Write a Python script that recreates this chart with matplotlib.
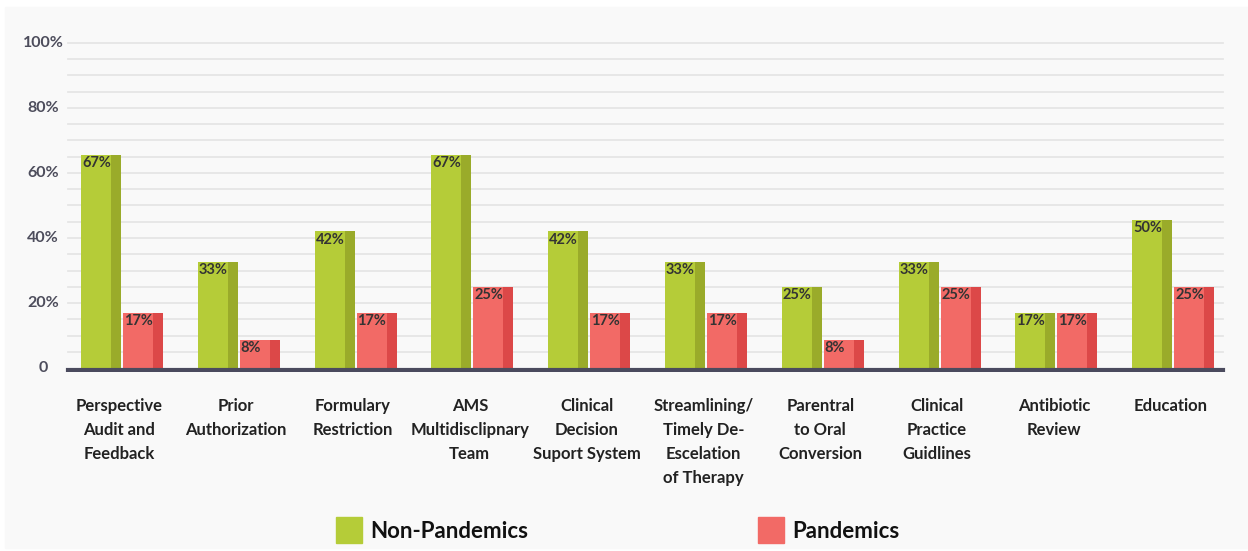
import matplotlib.pyplot as plt
from matplotlib.patches import Rectangle
import numpy as np

categories = [
    "Perspective\nAudit and\nFeedback",
    "Prior\nAuthorization",
    "Formulary\nRestriction",
    "AMS\nMultidisclipnary\nTeam",
    "Clinical\nDecision\nSuport System",
    "Streamlining/\nTimely De-\nEscelation\nof Therapy",
    "Parentral\nto Oral\nConversion",
    "Clinical\nPractice\nGuidlines",
    "Antibiotic\nReview",
    "Education",
]
# bar heights as drawn in the picture, and the labels printed on them
non_pandemic = [65.5, 32.5, 42, 65.5, 42, 32.5, 25, 32.5, 17, 45.5]
non_pandemic_labels = ["67%", "33%", "42%", "67%", "42%", "33%", "25%", "33%", "17%", "50%"]
pandemic = [17, 8.5, 17, 25, 17, 17, 8.5, 25, 17, 25]
pandemic_labels = ["17%", "8%", "17%", "25%", "17%", "17%", "8%", "25%", "17%", "25%"]
y_ticks = [0, 20, 40, 60, 80, 100]
y_tick_labels = ["0", "20%", "40%", "60%", "80%", "100%"]

GREEN, GREEN_SIDE = "#b5cc38", "#9aab2a"
RED, RED_SIDE = "#f26a66", "#dc4848"

W, H = 1248, 551
fig = plt.figure(figsize=(W / 100, H / 100), dpi=100, facecolor="white")
plt.rcParams["font.family"] = ["Lato", "DejaVu Sans"]

# light panel behind the chart
fig.patches.append(Rectangle((5 / W, 3 / H), 1 - 5 / W, 541 / H,
                             transform=fig.transFigure, color="#f9f9f9", zorder=-5))

ax = fig.add_axes([63 / W, (H - 372) / H, 1168 / W, 332 / H])
ax.set_facecolor("none")
ax.set_xlim(-0.5, len(categories) - 0.5)
ax.set_ylim(-4 / 3.25, 100 + 3 / 3.25)
ax.axis("off")

px = 1 / 116.8  # one pixel in x data units
front_w, side_w = 30 * px, 10 * px
x = np.arange(len(categories))

# grid lines every 5%
for g in range(5, 101, 5):
    ax.axhline(g, xmin=0.004, xmax=0.993, color="#e6e6e6", lw=1.3, zorder=1)

g_left = x - 40.5 * px
r_left = x + 1.5 * px
ax.bar(g_left, non_pandemic, width=front_w, align="edge", color=GREEN, zorder=3)
ax.bar(g_left + front_w, non_pandemic, width=side_w, align="edge", color=GREEN_SIDE, zorder=3)
ax.bar(r_left, pandemic, width=front_w, align="edge", color=RED, zorder=3)
ax.bar(r_left + front_w, pandemic, width=side_w, align="edge", color=RED_SIDE, zorder=3)

for i in range(len(categories)):
    ax.text(g_left[i] + 1 * px, non_pandemic[i] - 2.5, non_pandemic_labels[i],
            ha="left", va="center", fontsize=10.5, fontweight="bold", color="#333333", zorder=4)
    ax.text(r_left[i] + 1 * px, pandemic[i] - 2.5, pandemic_labels[i],
            ha="left", va="center", fontsize=10.5, fontweight="bold", color="#333333", zorder=4)

# baseline
ax.axhline(-0.5, xmin=0.004, xmax=0.993, color="#4b4b5e", lw=3, zorder=5)

# y tick labels
ytr = ax.get_yaxis_transform()
for v, lab in zip(y_ticks, y_tick_labels):
    ax.text(-20 / 1168, v, lab, transform=ytr, ha="center", va="center",
            fontsize=11.5, fontweight="bold", color="#4d4d5c")

# category labels
xtr = ax.get_xaxis_transform()
for i, lab in enumerate(categories):
    ax.text(x[i] - 2 * px, -26 / 332, lab, transform=xtr, ha="center", va="top",
            multialignment="center", fontsize=12, fontweight="bold",
            color="#222222", linespacing=1.62)

# legend
for x0, color, lab in [(336, GREEN, "Non-Pandemics"), (758, RED, "Pandemics")]:
    fig.patches.append(Rectangle((x0 / W, (H - 543) / H), 26 / W, 26 / H,
                                 transform=fig.transFigure, color=color, zorder=2))
    fig.text((x0 + 34) / W, (H - 531) / H, lab, ha="left", va="center",
             fontsize=16, fontweight="bold", color="#111111")

fig.savefig("out.png", dpi=100, facecolor=fig.get_facecolor())
